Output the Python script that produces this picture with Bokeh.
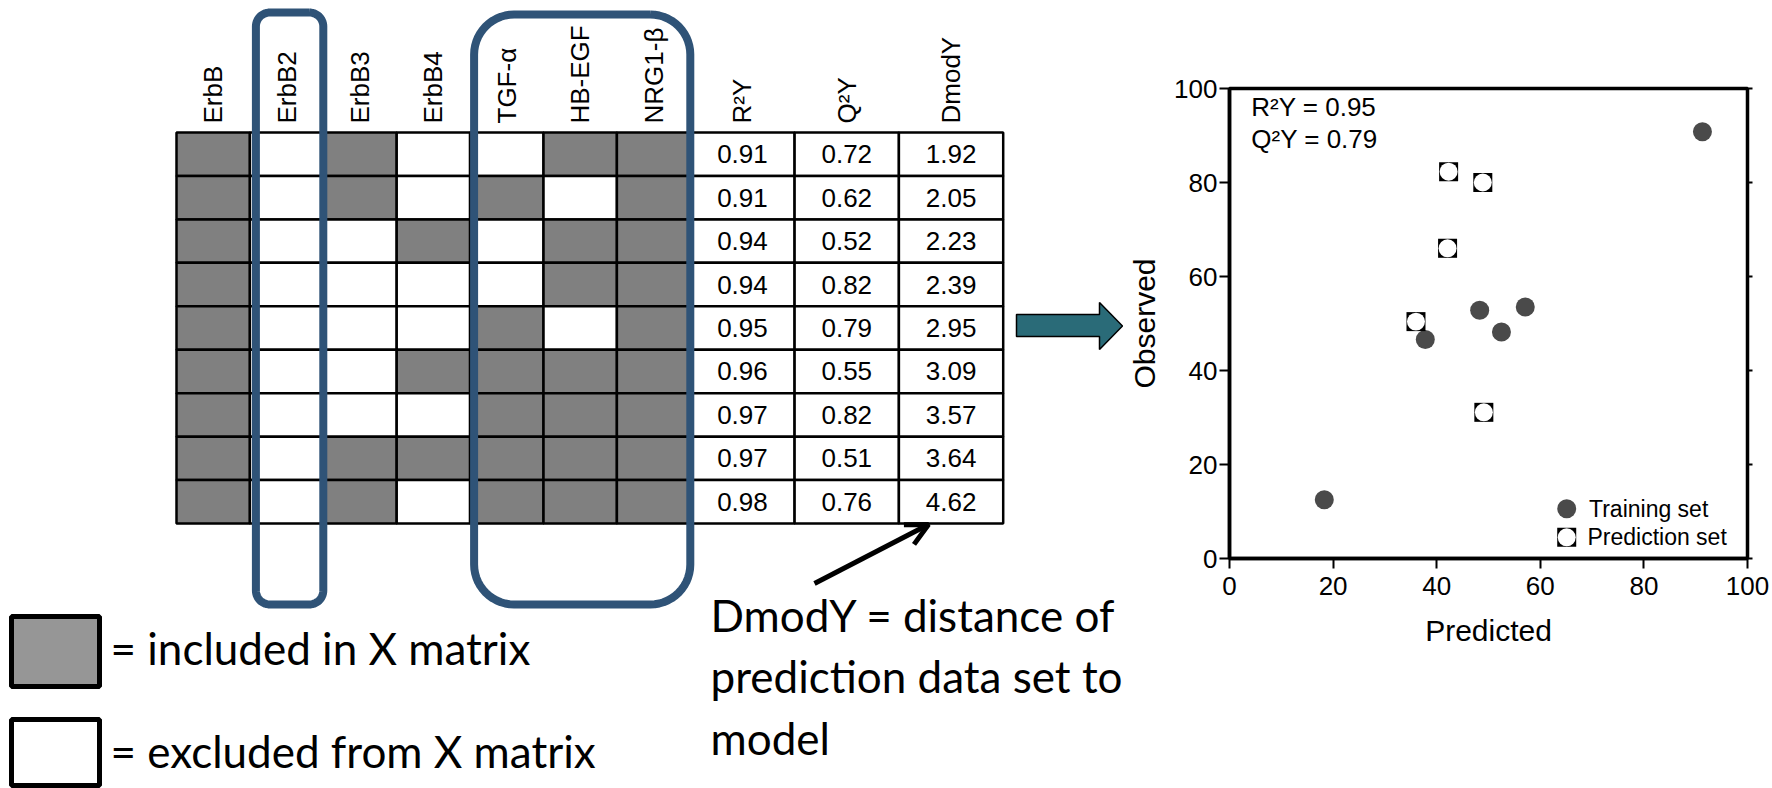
import math

from bokeh.core.properties import value
from bokeh.embed import file_html
from bokeh.layouts import row
from bokeh.models import (Arrow, ColumnDataSource, FixedTicker, LinearAxis,
                          OpenHead, Range1d)
from bokeh.plotting import figure
from bokeh.resources import INLINE

# ---------------------------------------------------------------- data
features = ["ErbB", "ErbB2", "ErbB3", "ErbB4", "TGF-α", "HB-EGF", "NRG1-β"]
stat_names = ["R²Y", "Q²Y", "DmodY"]

# 1 = feature included in the X matrix, 0 = excluded (one row per model)
included = [
    [1, 0, 1, 0, 0, 1, 1],
    [1, 0, 1, 0, 1, 0, 1],
    [1, 0, 0, 1, 0, 1, 1],
    [1, 0, 0, 0, 0, 1, 1],
    [1, 0, 0, 0, 1, 0, 1],
    [1, 0, 0, 1, 1, 1, 1],
    [1, 0, 0, 0, 1, 1, 1],
    [1, 0, 1, 1, 1, 1, 1],
    [1, 0, 1, 0, 1, 1, 1],
]
r2y = [0.91, 0.91, 0.94, 0.94, 0.95, 0.96, 0.97, 0.97, 0.98]
q2y = [0.72, 0.62, 0.52, 0.82, 0.79, 0.55, 0.82, 0.51, 0.76]
dmody = [1.92, 2.05, 2.23, 2.39, 2.95, 3.09, 3.57, 3.64, 4.62]
chosen_model = 4  # row whose predictions are plotted

train_predicted = [18.3, 37.8, 48.3, 52.5, 57.1, 91.3]
train_observed = [12.5, 46.6, 52.8, 48.2, 53.5, 90.8]
test_predicted = [36.0, 42.3, 48.9, 42.1, 49.1]
test_observed = [50.4, 82.3, 80.0, 66.0, 31.1]

axis_ticks = [0, 20, 40, 60, 80, 100]

# ---------------------------------------------------------------- style
ARIAL = value("Liberation Sans")
SLIDE = value("Lato")
GRAY = "#808080"
KEY_GRAY = "#969696"
BLUE = "#2F5377"
TEAL = "#2A6B78"
DOT = "#4A4A4A"

H = 788
LEFT_W = 1123
RIGHT_W = 1772 - LEFT_W

# ------------------------------------------------- model selection table
diag = figure(width=LEFT_W, height=H, x_range=Range1d(0, LEFT_W),
              y_range=Range1d(H, 0), x_axis_type=None, y_axis_type=None,
              output_backend="svg", toolbar_location=None, min_border=0,
              outline_line_color=None, frame_align=False)

X0, Y0, CW, RH = 176.0, 132.0, 73.4, 43.45
SX0, SW = X0 + 7 * CW, 104.3

grid = dict(l=[], r=[], t=[], b=[], fill=[])
for i, flags in enumerate(included):
    for j, flag in enumerate(flags):
        grid["l"].append(X0 + j * CW)
        grid["r"].append(X0 + (j + 1) * CW)
        grid["t"].append(Y0 + i * RH)
        grid["b"].append(Y0 + (i + 1) * RH)
        grid["fill"].append(GRAY if flag else "white")
diag.quad(left="l", right="r", top="t", bottom="b", fill_color="fill",
          line_color="black", line_width=2.5, source=ColumnDataSource(grid))

stats = dict(l=[], r=[], t=[], b=[], x=[], y=[], txt=[])
for k, col in enumerate([r2y, q2y, dmody]):
    for i, v in enumerate(col):
        stats["l"].append(SX0 + k * SW)
        stats["r"].append(SX0 + (k + 1) * SW)
        stats["t"].append(Y0 + i * RH)
        stats["b"].append(Y0 + (i + 1) * RH)
        stats["x"].append(SX0 + (k + 0.5) * SW)
        stats["y"].append(Y0 + (i + 0.5) * RH)
        stats["txt"].append(f"{v:.2f}")
stats_src = ColumnDataSource(stats)
diag.quad(left="l", right="r", top="t", bottom="b", fill_color="white",
          line_color="black", line_width=2.5, source=stats_src)
diag.text(x="x", y="y", text="txt", source=stats_src, text_font=ARIAL,
          text_font_size="26px", text_align="center", text_baseline="middle",
          text_color="black")

# rotated column headers
head_x = [X0 + (j + 0.5) * CW for j in range(len(features))] + \
         [SX0 + (k + 0.5) * SW for k in range(len(stat_names))]
diag.text(x=head_x, y=[123] * len(head_x), text=features + stat_names,
          angle=math.pi / 2, text_align="left", text_baseline="middle",
          text_font=ARIAL, text_font_size="26px", text_color="black")


def rounded(x0, y0, x1, y1, r, n=14):
    xs, ys = [], []
    for cx, cy, a0, a1 in [(x1 - r, y0 + r, -90, 0), (x1 - r, y1 - r, 0, 90),
                           (x0 + r, y1 - r, 90, 180), (x0 + r, y0 + r, 180, 270)]:
        for s in range(n + 1):
            a = math.radians(a0 + (a1 - a0) * s / n)
            xs.append(cx + r * math.cos(a))
            ys.append(cy + r * math.sin(a))
    xs.append(xs[0])
    ys.append(ys[0])
    return xs, ys


# outlines around the excluded receptor and the ligand columns
for x0, y0, x1, y1, r in [(X0 + CW + 6, 12, X0 + 2 * CW, 604, 14),
                          (X0 + 4 * CW + 4, 14, X0 + 7 * CW, 604, 40)]:
    bx, by = rounded(x0, y0, x1, y1, r)
    diag.line(bx, by, line_color=BLUE, line_width=8, line_join="round")

# key for the shaded cells
diag.quad(left=[11, 11], right=[99, 99], top=[616, 719], bottom=[686, 785],
          fill_color=[KEY_GRAY, "white"], line_color="black", line_width=5)
diag.text(x=[110, 110], y=[647, 750],
          text=["= included in X matrix", "= excluded from X matrix"],
          text_font=SLIDE, text_font_size="44px", text_baseline="alphabetic",
          text_color="black")

# DmodY note with its pointer
diag.text(x=[710, 710, 710], y=[614, 675, 737],
          text=["DmodY = distance of", "prediction data set to", "model"],
          text_font=SLIDE, text_font_size="44px", text_baseline="alphabetic",
          text_color="black")
diag.add_layout(Arrow(end=OpenHead(size=22, line_width=5, line_color="black"),
                      x_start=814, y_start=583, x_end=928, y_end=524,
                      line_width=5, line_color="black"))

# block arrow leading to the scatter plot
diag.patch([1016, 1099, 1099, 1122, 1099, 1099, 1016],
           [314, 314, 302, 325.5, 349, 336, 336],
           fill_color=TEAL, line_color="black", line_width=1.5)

# ------------------------------------------------- observed vs predicted
sc = figure(width=RIGHT_W, height=H, x_range=Range1d(0, 100),
            y_range=Range1d(0, 100), output_backend="svg",
            toolbar_location=None, min_border_left=106, min_border_right=25,
            min_border_top=88, min_border_bottom=230,
            outline_line_color="black", outline_line_width=3.5,
            x_axis_label="Predicted", y_axis_label="Observed",
            frame_align=False)
sc.grid.visible = False

right_axis = LinearAxis(axis_line_color=None)
sc.add_layout(right_axis, "right")

for ax in sc.axis:
    ax.ticker = FixedTicker(ticks=axis_ticks)
    ax.minor_tick_line_color = None
    ax.major_tick_in = 0
    ax.major_tick_out = 10
    ax.major_tick_line_width = 2
    ax.major_tick_line_color = "black"
    ax.axis_line_width = 3.5
    ax.major_label_text_font = "Liberation Sans"
    ax.major_label_text_font_size = "26px"
    ax.major_label_text_color = "black"
    ax.axis_label_text_font = "Liberation Sans"
    ax.axis_label_text_font_size = "30px"
    ax.axis_label_text_font_style = "normal"
    ax.axis_label_text_color = "black"
right_axis.major_tick_out = 5
right_axis.major_label_standoff = 0
right_axis.major_label_overrides = {t: "" for t in axis_ticks}

sc.xaxis[0].major_label_standoff = 8
sc.xaxis[0].axis_label_standoff = 16
sc.yaxis[0].major_label_standoff = 2
sc.yaxis[0].axis_label_standoff = 10

sc.scatter(train_predicted, train_observed, marker="circle", size=19,
           fill_color=DOT, line_color=None)
sc.scatter(test_predicted, test_observed, marker="square", size=19,
           fill_color="black", line_color=None)
sc.scatter(test_predicted, test_observed, marker="circle", size=18,
           fill_color="white", line_color=None)

sc.text(x=[4.2, 4.2], y=[96.0, 89.2],
        text=[f"R²Y = {r2y[chosen_model]:.2f}", f"Q²Y = {q2y[chosen_model]:.2f}"],
        text_font=ARIAL, text_font_size="26px", text_baseline="middle",
        text_color="black")

# key inside the plot
sc.scatter([65.1], [10.6], marker="circle", size=19, fill_color=DOT,
           line_color=None)
sc.scatter([65.1], [4.5], marker="square", size=19, fill_color="black",
           line_color=None)
sc.scatter([65.1], [4.5], marker="circle", size=18, fill_color="white",
           line_color=None)
sc.text(x=[69.4, 69.1], y=[10.6, 4.5], text=["Training set", "Prediction set"],
        text_font=ARIAL, text_font_size="23px", text_baseline="middle",
        text_color="black")

layout = row(diag, sc)
open("out.html", "w").write(file_html(layout, INLINE))
